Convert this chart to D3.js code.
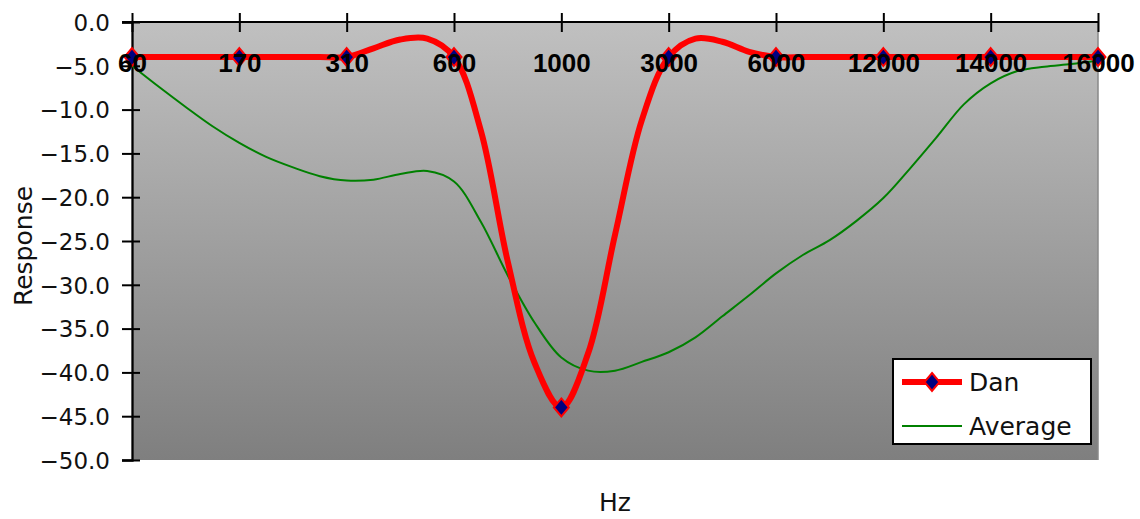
<!DOCTYPE html>
<html>
<head>
<meta charset="utf-8">
<script src="https://cdn.jsdelivr.net/npm/d3@7/dist/d3.min.js"></script>
<style>
  html, body { margin: 0; padding: 0; background: #fff; }
  svg { display: block; }
  .ytick text { font-family: "DejaVu Sans", sans-serif; font-size: 23px; fill: #111; }
  .xtick text { font-family: "Liberation Sans", sans-serif; font-size: 26px; font-weight: bold; fill: #000; }
  .title { font-family: "DejaVu Sans", sans-serif; font-size: 25px; fill: #111; }
  .legend text { font-family: "DejaVu Sans", sans-serif; font-size: 25px; fill: #111; }
</style>
</head>
<body>
<div id="chart"></div>
<script>
// Category labels (Hz)
var categories = ['60', '170', '310', '600', '1000', '3000', '6000', '12000', '14000', '16000'];
var yTicks = [0, -5, -10, -15, -20, -25, -30, -35, -40, -45, -50];

// values read at every quarter of a category step
var step = 0.25;
var dan = [-4, -4, -4, -4, -4, -4, -4, -4, -4, -3.0, -2.0, -1.9,
  -4, -12.4, -27.3, -38.9, -44, -37.8, -24.3, -11.2,
  -4, -1.9, -2.25, -3.4, -4, -4, -4, -4, -4, -4, -4, -4, -4, -4, -4, -4, -4];
var average = [-5.0, -7.4, -9.7, -11.9, -13.8, -15.4, -16.6, -17.6, -18.1, -18.0, -17.35, -17.0,
  -18.2, -22.8, -28.9, -34.3, -38.3, -39.8, -39.8, -38.8,
  -37.7, -36.0, -33.6, -31.2, -28.7, -26.6, -24.9, -22.7, -20.1, -16.7, -13.1, -9.4,
  -7.0, -5.6, -5.1, -4.8, -4.4];

var width = 1140, height = 519;
var plot = { left: 132, right: 1098, top: 22, bottom: 460 };

var svg = d3.select('#chart').append('svg')
  .attr('width', width)
  .attr('height', height);

var x = d3.scaleLinear().domain([0, categories.length - 1]).range([plot.left, plot.right]);
var xCat = d3.scalePoint().domain(categories).range([plot.left, plot.right]);
var y = d3.scaleLinear().domain([0, -50]).range([plot.top, plot.bottom]);

// plot background gradient
var defs = svg.append('defs');
var grad = defs.append('linearGradient')
  .attr('id', 'bg-grad')
  .attr('x1', '0%').attr('y1', '0%')
  .attr('x2', '0%').attr('y2', '100%');
grad.append('stop').attr('offset', 0).attr('stop-color', '#c0c0c0');
grad.append('stop').attr('offset', 1).attr('stop-color', '#7f7f7f');

svg.append('rect')
  .attr('x', plot.left)
  .attr('y', plot.top)
  .attr('width', plot.right - plot.left)
  .attr('height', plot.bottom - plot.top)
  .attr('fill', 'url(#bg-grad)');

svg.append('line')
  .attr('x1', plot.right).attr('x2', plot.right)
  .attr('y1', plot.top).attr('y2', plot.bottom)
  .attr('stroke', '#888').attr('stroke-width', 1.5);

// y axis
var yAxis = svg.append('g')
  .attr('class', 'ytick')
  .attr('transform', 'translate(' + plot.left + ',0)')
  .call(d3.axisLeft(y).tickValues(yTicks).tickSize(10).tickPadding(12)
    .tickFormat(function (d) { return d === 0 ? '0.0' : d3.format('.1f')(d); }));
yAxis.select('.domain').attr('stroke', '#000').attr('stroke-width', 2.3);
yAxis.selectAll('.tick line').attr('x2', 8).attr('x1', -10).attr('stroke', '#000').attr('stroke-width', 2);
yAxis.selectAll('.tick text').attr('dy', '0.36em');

// x axis on top (at 0)
var xAxis = svg.append('g')
  .attr('class', 'xtick')
  .attr('transform', 'translate(0,' + plot.top + ')')
  .call(d3.axisTop(xCat).tickSizeInner(9).tickSizeOuter(0));
xAxis.select('.domain').attr('d', 'M' + (plot.left - 10) + ',0H' + plot.right)
  .attr('stroke', '#000').attr('stroke-width', 2);
xAxis.selectAll('.tick line').attr('y1', -9).attr('y2', 10).attr('stroke', '#000').attr('stroke-width', 2);

// series
var line = d3.line()
  .x(function (d, i) { return x(i * step); })
  .y(function (d) { return y(d); })
  .curve(d3.curveCatmullRom);

svg.append('path')
  .datum(average)
  .attr('d', line)
  .attr('fill', 'none')
  .attr('stroke', '#008000')
  .attr('stroke-width', 2);

svg.append('path')
  .datum(dan)
  .attr('d', line)
  .attr('fill', 'none')
  .attr('stroke', '#ff0000')
  .attr('stroke-width', 6)
  .attr('stroke-linejoin', 'round');

var diamond = 'M0,-9L7.5,0L0,9L-7.5,0Z';

svg.append('g').selectAll('path')
  .data(dan.map(function (d, i) { return { i: i * step, v: d }; })
    .filter(function (d) { return d.i % 1 === 0; }))
  .enter().append('path')
  .attr('d', diamond)
  .attr('transform', function (d) { return 'translate(' + x(d.i) + ',' + y(d.v) + ')'; })
  .attr('fill', '#000080')
  .attr('stroke', '#ff0000')
  .attr('stroke-width', 2);

// x tick labels sit over the lines
xAxis.raise();
xAxis.selectAll('.tick text').attr('y', 50).attr('dy', 0).attr('fill', '#000');

// axis titles
svg.append('text')
  .attr('class', 'title')
  .attr('transform', 'translate(32,246) rotate(-90)')
  .attr('text-anchor', 'middle')
  .text('Response');

svg.append('text')
  .attr('class', 'title')
  .attr('x', (plot.left + plot.right) / 2)
  .attr('y', 511)
  .attr('text-anchor', 'middle')
  .text('Hz');

// legend
var legend = svg.append('g').attr('class', 'legend');
legend.append('rect')
  .attr('x', 893).attr('y', 359)
  .attr('width', 198).attr('height', 85)
  .attr('fill', '#fff')
  .attr('stroke', '#000')
  .attr('stroke-width', 2);

legend.append('line')
  .attr('x1', 902).attr('x2', 962).attr('y1', 382).attr('y2', 382)
  .attr('stroke', '#ff0000').attr('stroke-width', 6);
legend.append('path')
  .attr('d', diamond)
  .attr('transform', 'translate(932,382)')
  .attr('fill', '#000080')
  .attr('stroke', '#ff0000')
  .attr('stroke-width', 2);
legend.append('text').attr('x', 969).attr('y', 391).text('Dan');

legend.append('line')
  .attr('x1', 902).attr('x2', 962).attr('y1', 426).attr('y2', 426)
  .attr('stroke', '#008000').attr('stroke-width', 2);
legend.append('text').attr('x', 969).attr('y', 435).text('Average');
</script>
</body>
</html>
